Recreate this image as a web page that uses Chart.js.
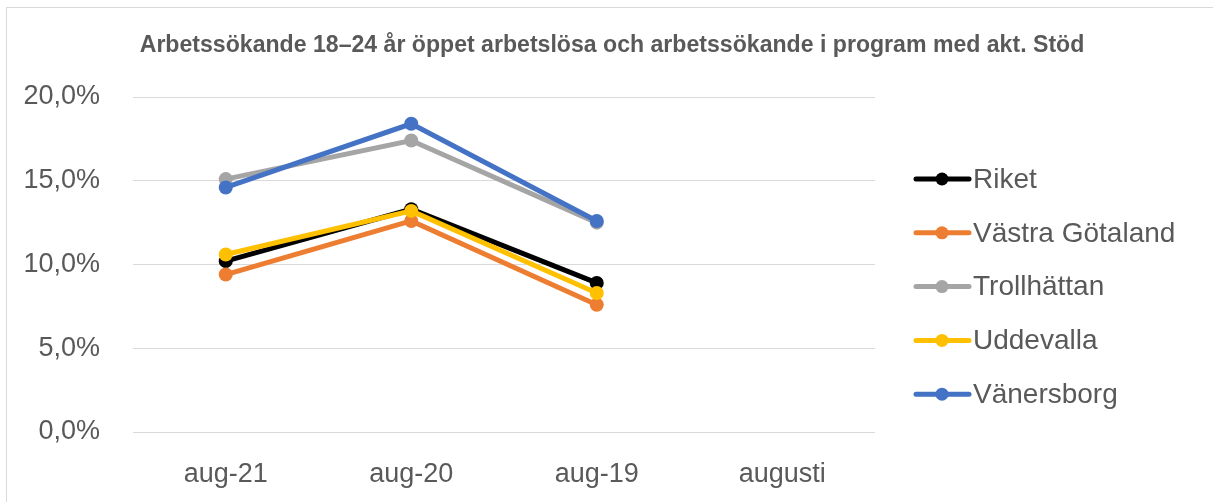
<!DOCTYPE html>
<html>
<head>
<meta charset="utf-8">
<script src="https://cdn.jsdelivr.net/npm/chart.js@4"></script>
<style>
  html, body { margin: 0; padding: 0; background: #fff; overflow: hidden; }
  canvas { display: block; }
</style>
</head>
<body>
<canvas id="chart" width="1213" height="502"></canvas>
<script>
// values (percent)
const categories = ['aug-21', 'aug-20', 'aug-19', 'augusti'];
const seriesNames = ['Riket', 'Västra Götaland', 'Trollhättan', 'Uddevalla', 'Vänersborg'];
const riket = [10.2, 13.3, 8.9, null];
const vastraGotaland = [9.4, 12.6, 7.6, null];
const trollhattan = [15.1, 17.4, 12.5, null];
const uddevalla = [10.6, 13.2, 8.3, null];
const vanersborg = [14.6, 18.4, 12.6, null];
const yTicks = [0, 5, 10, 15, 20];

const colors = ['#000000', '#ED7D31', '#A5A5A5', '#FFC000', '#4472C4'];
const values = [riket, vastraGotaland, trollhattan, uddevalla, vanersborg];
const titleText = 'Arbetssökande 18–24 år öppet arbetslösa och arbetssökande i program med akt. Stöd';
const textColor = '#595959';
const fontFamily = '"Liberation Sans", Arial, sans-serif';

function fmtPct(v) {
    return v.toFixed(1).replace('.', ',') + '%';
}

// frame, title and line-style legend
const decorations = {
    id: 'decorations',
    beforeDraw(chart) {
        const ctx = chart.ctx;
        ctx.save();
        ctx.strokeStyle = '#D9D9D9';
        ctx.lineWidth = 1;
        ctx.strokeRect(6.5, 7.5, 1400, 700);
        ctx.restore();
    },
    afterDraw(chart) {
        const ctx = chart.ctx;
        ctx.save();
        // title, sized to span like the original
        let size = 21;
        ctx.font = 'bold ' + size + 'px ' + fontFamily;
        const w = ctx.measureText(titleText).width;
        size = size * 945 / w;
        ctx.font = 'bold ' + size + 'px ' + fontFamily;
        ctx.fillStyle = textColor;
        ctx.textAlign = 'center';
        ctx.textBaseline = 'middle';
        ctx.fillText(titleText, 612, 46);

        // legend
        ctx.textAlign = 'left';
        ctx.font = '28px ' + fontFamily;
        chart.data.datasets.forEach((ds, i) => {
            const y = 179 + i * 53.8;
            ctx.strokeStyle = ds.borderColor;
            ctx.lineWidth = 5;
            ctx.lineCap = 'round';
            ctx.beginPath();
            ctx.moveTo(916, y);
            ctx.lineTo(969, y);
            ctx.stroke();
            ctx.fillStyle = ds.borderColor;
            ctx.beginPath();
            ctx.arc(942, y, 6.5, 0, Math.PI * 2);
            ctx.fill();
            ctx.fillStyle = textColor;
            ctx.fillText(ds.label, 973, y + 1);
        });
        ctx.restore();
    }
};

const ctx = document.getElementById('chart').getContext('2d');
new Chart(ctx, {
    type: 'line',
    data: {
        labels: categories,
        datasets: seriesNames.map((name, i) => ({
            label: name,
            data: values[i],
            borderColor: colors[i],
            backgroundColor: colors[i],
            borderWidth: 5,
            pointRadius: 7,
            pointBorderWidth: 0,
            pointHoverRadius: 7,
            tension: 0,
            fill: false,
            order: seriesNames.length - i
        }))
    },
    options: {
        responsive: false,
        animation: false,
        layout: { padding: { top: 97, right: 338, left: 0, bottom: 0 } },
        plugins: {
            legend: { display: false },
            title: { display: false },
            tooltip: { enabled: false }
        },
        scales: {
            x: {
                offset: true,
                grid: { display: false },
                border: { display: false },
                ticks: {
                    color: textColor,
                    font: { family: fontFamily, size: 27 },
                    padding: 18
                },
                afterFit(scale) { scale.height = 70; }
            },
            y: {
                min: 0,
                max: 20,
                afterBuildTicks(scale) {
                    scale.ticks = yTicks.map(v => ({ value: v }));
                },
                grid: { color: '#D9D9D9', lineWidth: 1, drawTicks: false },
                border: { display: false },
                ticks: {
                    color: textColor,
                    font: { family: fontFamily, size: 27 },
                    padding: 33,
                    callback: v => fmtPct(v)
                },
                afterFit(scale) { scale.width = 133; }
            }
        }
    },
    plugins: [decorations]
});
</script>
</body>
</html>
